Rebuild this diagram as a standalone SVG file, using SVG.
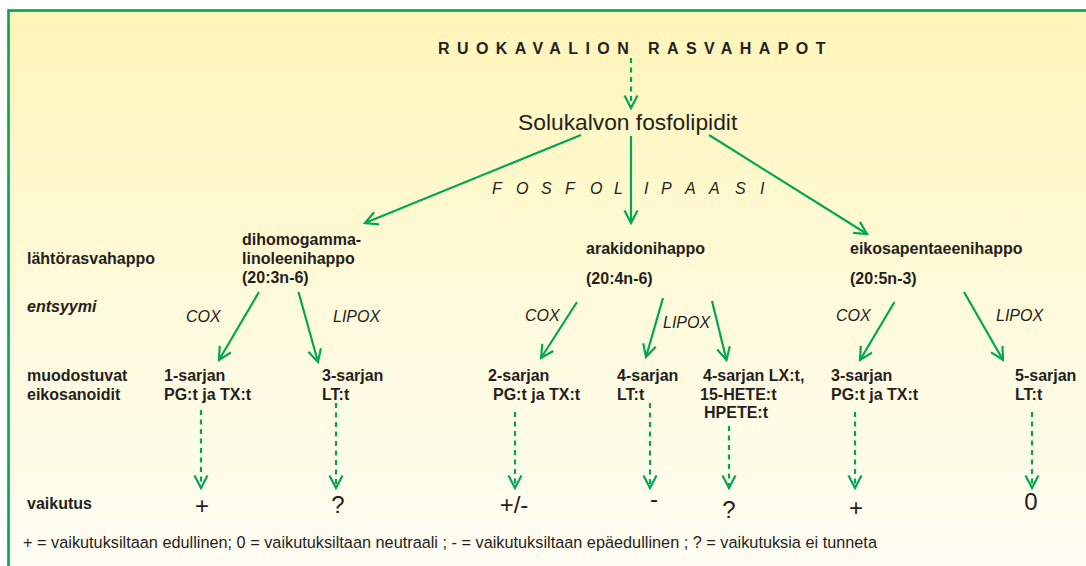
<svg xmlns="http://www.w3.org/2000/svg" width="1086" height="566" viewBox="0 0 1086 566">
<defs>
<linearGradient id="bg" x1="0" y1="0" x2="0" y2="1">
<stop offset="0" stop-color="#FFF5B8"/>
<stop offset="0.55" stop-color="#FFFBDF"/>
<stop offset="1" stop-color="#FFFEF7"/>
</linearGradient>
<marker id="ah" viewBox="0 0 16 16" refX="14" refY="8" markerWidth="16" markerHeight="16" markerUnits="userSpaceOnUse" orient="auto">
<path d="M1.5,1.5 L14,8 L1.5,14.5" fill="none" stroke="#00A651" stroke-width="2.2" stroke-dasharray="none"/>
</marker>
<style>
.t{font-family:"Liberation Sans",Arial,Helvetica,sans-serif;fill:#231F20}
.b{font-weight:bold;font-size:16px}
.i{font-style:italic;font-size:16px}
.r{font-size:16.3px}
.e{font-size:24px;text-anchor:middle}
.a{stroke:#00A651;stroke-width:2.2;fill:none;marker-end:url(#ah)}
.d{stroke-dasharray:5 4.5}
</style>
</defs>
<rect x="0" y="0" width="1086" height="566" fill="#FFFFFF"/>
<rect x="8.5" y="10.5" width="1100" height="600" fill="url(#bg)" stroke="#00A651" stroke-width="2.6"/>

<g id="title"><text class="t b" x="438" y="54" letter-spacing="7.4">RUOKAVALION RASVAHAPOT</text></g>
<g id="solukalvo"><text class="t" x="518" y="130" font-size="22.8">Solukalvon fosfolipidit</text></g>
<g id="fosfolipaasi"><text class="t i" y="194"><tspan x="492">F</tspan><tspan x="516">O</tspan><tspan x="541">S</tspan><tspan x="565">F</tspan><tspan x="590">O</tspan><tspan x="614">L</tspan><tspan x="644">I</tspan><tspan x="661">P</tspan><tspan x="685">A</tspan><tspan x="709">A</tspan><tspan x="735">S</tspan><tspan x="760">I</tspan></text></g>

<g id="row-labels">
<text class="t b" x="27" y="264">lähtörasvahappo</text>
<text class="t b" x="27" y="312" font-style="italic">entsyymi</text>
<text class="t b" x="27" y="381">muodostuvat</text>
<text class="t b" x="27" y="400">eikosanoidit</text>
<text class="t b" x="27" y="509">vaikutus</text>
</g>

<g id="dgla"><text class="t b" x="242" y="245">dihomogamma-</text><text class="t b" x="242" y="264">linoleenihappo</text><text class="t b" x="242" y="283">(20:3n-6)</text></g>
<g id="aa"><text class="t b" x="586" y="254">arakidonihappo</text><text class="t b" x="586" y="284">(20:4n-6)</text></g>
<g id="epa"><text class="t b" x="850" y="254">eikosapentaeenihappo</text><text class="t b" x="850" y="284">(20:5n-3)</text></g>

<g id="enzymes">
<text class="t i" x="186" y="322">COX</text>
<text class="t i" x="333" y="322">LIPOX</text>
<text class="t i" x="525" y="321">COX</text>
<text class="t i" x="663" y="328">LIPOX</text>
<text class="t i" x="836" y="321">COX</text>
<text class="t i" x="996" y="321">LIPOX</text>
</g>

<g id="p1"><text class="t b" x="164" y="381">1-sarjan</text><text class="t b" x="164" y="400">PG:t ja TX:t</text></g>
<g id="p3"><text class="t b" x="322" y="381">3-sarjan</text><text class="t b" x="322" y="400">LT:t</text></g>
<g id="p2"><text class="t b" x="488" y="381">2-sarjan</text><text class="t b" x="493" y="400">PG:t ja TX:t</text></g>
<g id="p4"><text class="t b" x="617" y="381">4-sarjan</text><text class="t b" x="617" y="400">LT:t</text></g>
<g id="p4lx"><text class="t b" x="703" y="381">4-sarjan LX:t,</text><text class="t b" x="700" y="400">15-HETE:t</text><text class="t b" x="704" y="418">HPETE:t</text></g>
<g id="p3epa"><text class="t b" x="831" y="381">3-sarjan</text><text class="t b" x="831" y="400">PG:t ja TX:t</text></g>
<g id="p5"><text class="t b" x="1015" y="381">5-sarjan</text><text class="t b" x="1015" y="400">LT:t</text></g>

<g id="effects">
<text class="t e" x="202" y="514">+</text>
<text class="t e" x="338" y="513">?</text>
<text class="t e" x="514" y="513">+/-</text>
<text class="t e" x="654" y="507">-</text>
<text class="t e" x="729" y="518">?</text>
<text class="t e" x="856" y="516">+</text>
<text class="t e" x="1031" y="510">0</text>
</g>

<g id="legend"><text class="t r" x="23" y="548">+ = vaikutuksiltaan edullinen; 0 = vaikutuksiltaan neutraali ; - = vaikutuksiltaan epäedullinen ; ? = vaikutuksia ei tunneta</text></g>

<g id="connectors">
<line class="a d" x1="631" y1="58" x2="631" y2="108"/>
<line class="a" x1="581" y1="135" x2="365" y2="223"/>
<line class="a" x1="631" y1="136" x2="631" y2="223"/>
<line class="a" x1="709" y1="135" x2="867" y2="234"/>
<line class="a" x1="259" y1="292" x2="219" y2="360"/>
<line class="a" x1="298.5" y1="292" x2="318" y2="362"/>
<line class="a" x1="577" y1="302" x2="541" y2="358"/>
<line class="a" x1="663" y1="298" x2="646" y2="357"/>
<line class="a" x1="712" y1="301" x2="726.5" y2="360"/>
<line class="a" x1="894.5" y1="302" x2="860" y2="360"/>
<line class="a" x1="964" y1="292" x2="1003" y2="360"/>
<line class="a d" x1="201" y1="410" x2="201" y2="488"/>
<line class="a d" x1="336" y1="403" x2="336" y2="488"/>
<line class="a d" x1="515" y1="412" x2="515" y2="488"/>
<line class="a d" x1="650" y1="403" x2="650" y2="488"/>
<line class="a d" x1="729" y1="426" x2="729" y2="488"/>
<line class="a d" x1="855" y1="412" x2="855" y2="488"/>
<line class="a d" x1="1032" y1="412" x2="1032" y2="488"/>
</g>
</svg>
